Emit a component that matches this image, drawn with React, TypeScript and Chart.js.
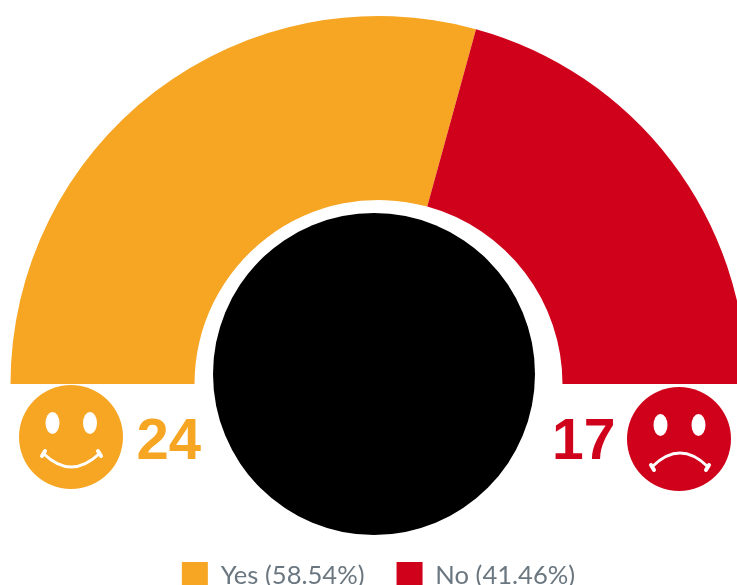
import React, { useEffect, useRef } from "react";
import { Chart, registerables } from "chart.js";

Chart.register(...registerables);

const categories = ["Yes (58.54%)", "No (41.46%)"];
const votes = [24, 17];
const colors = ["#F6A623", "#D0021B"];

const moveLegend = {
  id: "moveLegend",
  afterLayout(chart: any) {
    const legend = chart.legend;
    const h = legend.height;
    legend.top = 530;
    legend.bottom = 530 + h;
  },
};

export default function App() {
  const ref = useRef<HTMLCanvasElement | null>(null);
  useEffect(() => {
    document.body.style.margin = "0";
    document.body.style.overflow = "hidden";
    const chart = new Chart(ref.current!, {
      type: "doughnut",
      data: {
        labels: categories,
        datasets: [{ data: votes, backgroundColor: colors, borderWidth: 0 }],
      },
      plugins: [moveLegend],
      options: {
        responsive: false,
        animation: false,
        rotation: -90,
        circumference: 180,
        cutout: "50%",
        radius: 368,
        layout: { padding: { left: 20, right: 0, top: 0, bottom: 150 } },
        events: [],
        plugins: {
          tooltip: { enabled: false },
          legend: {
            position: "bottom",
            labels: {
              boxWidth: 26,
              boxHeight: 28,
              padding: 32,
              color: "#6B7780",
              font: { family: "Lato", size: 25.6 },
            },
          },
        },
      },
    });
    return () => chart.destroy();
  }, []);

  return (
    <div style={{ position: "relative", width: 737, height: 585, overflow: "hidden" }}>
      <canvas ref={ref} width={737} height={620} style={{ position: "absolute", left: 0, top: 0, display: "block", width: 737, height: 620 }} />
      <div style={{ position: "absolute", left: 213, top: 213, width: 322, height: 322, borderRadius: "50%", background: "#000" }} />
      <svg width={737} height={585} style={{ position: "absolute", left: 0, top: 0 }}>
        <circle cx={71} cy={437} r={52} fill={colors[0]} />
        <ellipse cx={52.5} cy={423} rx={7} ry={11} fill="#fff" />
        <ellipse cx={90} cy={423} rx={7} ry={11} fill="#fff" />
        <path d="M44 454 Q71 480 99 454" fill="none" stroke="#fff" strokeWidth={3} />
        <path d="M45 451 L42 456 M98 451 L101 456" fill="none" stroke="#fff" strokeWidth={4} strokeLinecap="round" />
        <text x={136.5} y={459} fontFamily="Liberation Sans" fontWeight={700} fontSize={58} fill={colors[0]}>{votes[0]}</text>
        <text x={552} y={459} fontFamily="Liberation Sans" fontWeight={700} fontSize={57} fill={colors[1]}>{votes[1]}</text>
        <circle cx={679} cy={439} r={52} fill={colors[1]} />
        <ellipse cx={660.5} cy={425} rx={7} ry={11} fill="#fff" />
        <ellipse cx={698.5} cy={425} rx={7} ry={11} fill="#fff" />
        <path d="M653 466 Q680 440 707 466" fill="none" stroke="#fff" strokeWidth={3} />
        <path d="M651 465 L654 470 M709 465 L706 470" fill="none" stroke="#fff" strokeWidth={4} strokeLinecap="round" />
      </svg>
    </div>
  );
}
